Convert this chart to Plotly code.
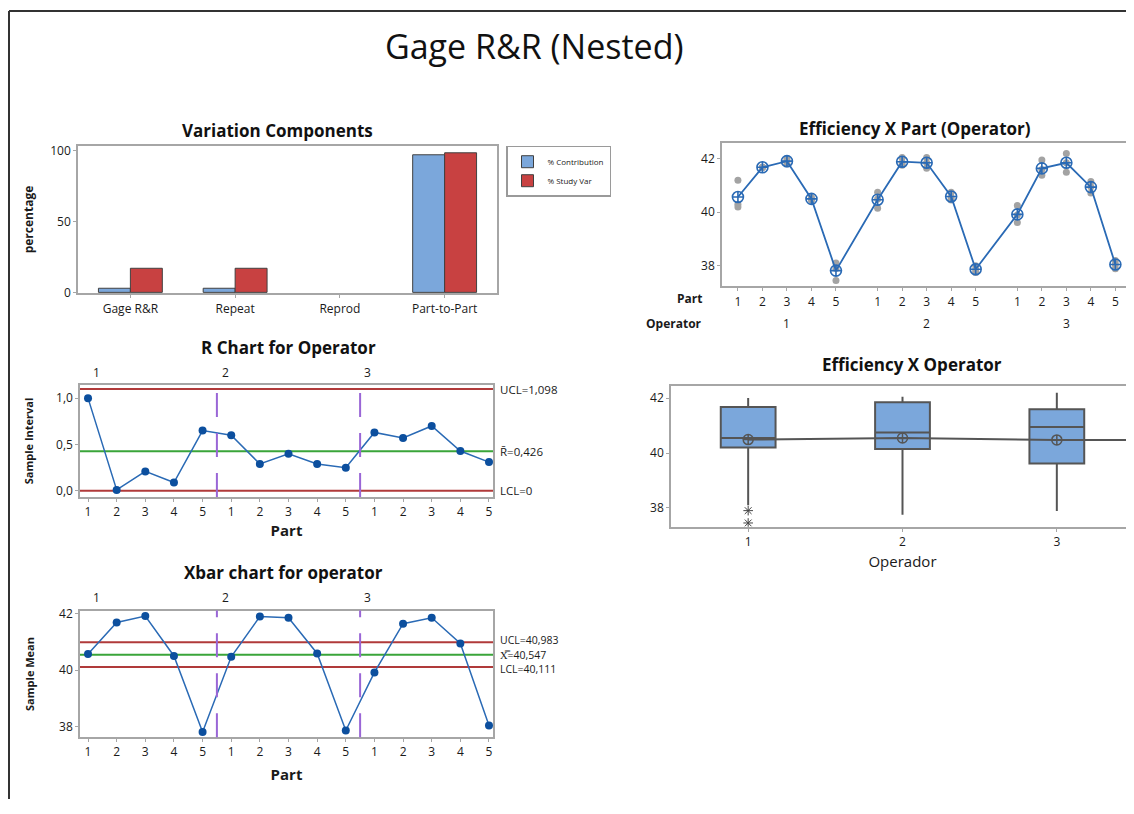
import plotly.graph_objects as go

# target canvas in reference pixels; the page body adds an 8px margin all round
OX, OY = 8, 8
W, H = 1134 - OX, 814 - 2 * OY
FONT = "Open Sans"

# ---------------- data ----------------
components = ["Gage R&R", "Repeat", "Reprod", "Part-to-Part"]
pct_contribution = [2.9, 2.9, 0.0, 97.1]
pct_study_var = [17.0, 17.0, 0.0, 98.5]

operators = [1, 2, 3]
parts = [1, 2, 3, 4, 5]

# individual measurements (3 replicates per part within operator)
meas_op1 = [[41.20, 40.30, 40.20], [41.68, 41.68, 41.67], [41.80, 41.92, 42.01],
            [40.48, 40.55, 40.46], [38.10, 37.90, 37.45]]
meas_op2 = [[40.75, 40.50, 40.15], [42.05, 41.85, 41.76], [42.05, 41.85, 41.65],
            [40.75, 40.55, 40.46], [38.00, 37.85, 37.75]]
meas_op3 = [[40.25, 39.90, 39.62], [41.95, 41.60, 41.38], [42.20, 41.85, 41.50],
            [41.15, 40.95, 40.72], [38.20, 38.05, 37.89]]

# sample ranges (R chart)
r_values = [1.00, 0.01, 0.21, 0.09, 0.65,
            0.60, 0.29, 0.40, 0.29, 0.25,
            0.63, 0.57, 0.70, 0.43, 0.31]
r_ucl, r_center, r_lcl = 1.098, 0.426, 0.0

# sample means (Xbar chart)
xbar_values = [40.57, 41.68, 41.91, 40.50, 37.82,
               40.47, 41.89, 41.85, 40.59, 37.87,
               39.92, 41.64, 41.85, 40.94, 38.05]
x_ucl, x_center, x_lcl = 40.983, 40.547, 40.111

# operator means (box plot)
op_means = [40.49, 40.55, 40.48]

control_labels_r = ["UCL=1,098", "R\u0304=0,426", "LCL=0"]
control_labels_x = ["UCL=40,983", "X\u033f=40,547", "LCL=40,111"]

# ---------------- helpers ----------------
def px(x):
    return (x - OX) / W

def yc(y):
    # vertical calibration of reference pixel rows
    return (y - 5.1) / 0.986

def py(y):
    return 1 - (yc(y) - OY) / H

def dx(a, b):
    return [max(px(a), 0.0), min(px(b), 1.0)]

def dy(top, bottom):
    return [max(py(bottom), 0.0), min(py(top), 1.0)]

BLUE_BAR = "#7ba7db"
RED_BAR = "#c84141"
LINE_BLUE = "#2a6ab5"
MARK_BLUE = "#0c4f9e"
CL_RED = "#b03a3a"
CL_GREEN = "#3aa53a"
PURPLE = "#9a66d6"
FRAME = "#a6a6a6"
TXT = "#1a1a1a"

samples = list(range(1, 16))
sample_ticktext = [str(p) for _ in operators for p in parts]

fig = go.Figure()

# ---- Panel A: variation components ----
bar_line_w = [0 if v == 0 else 1 for v in pct_contribution]
fig.add_trace(go.Bar(x=components, y=pct_contribution, name="% Contribution",
                     marker=dict(color=BLUE_BAR, line=dict(color="#404040", width=bar_line_w)),
                     xaxis="x", yaxis="y"))
fig.add_trace(go.Bar(x=components, y=pct_study_var, name="% Study Var",
                     marker=dict(color=RED_BAR, line=dict(color="#404040", width=bar_line_w)),
                     xaxis="x", yaxis="y"))

# ---- Panel B: R chart ----
for val, col in [(r_ucl, CL_RED), (r_center, CL_GREEN), (r_lcl, CL_RED)]:
    fig.add_trace(go.Scatter(x=[0.72, 15.14], y=[val, val], mode="lines",
                             line=dict(color=col, width=2), showlegend=False,
                             hoverinfo="skip", xaxis="x2", yaxis="y2"))
fig.add_trace(go.Scatter(x=samples, y=r_values, mode="lines+markers",
                         line=dict(color=LINE_BLUE, width=1.5),
                         marker=dict(color=MARK_BLUE, size=8, symbol="circle"),
                         showlegend=False, xaxis="x2", yaxis="y2"))

# ---- Panel C: Xbar chart ----
for val, col in [(x_ucl, CL_RED), (x_center, CL_GREEN), (x_lcl, CL_RED)]:
    fig.add_trace(go.Scatter(x=[0.72, 15.14], y=[val, val], mode="lines",
                             line=dict(color=col, width=2), showlegend=False,
                             hoverinfo="skip", xaxis="x3", yaxis="y3"))
fig.add_trace(go.Scatter(x=samples, y=xbar_values, mode="lines+markers",
                         line=dict(color=LINE_BLUE, width=1.5),
                         marker=dict(color=MARK_BLUE, size=8, symbol="circle"),
                         showlegend=False, xaxis="x3", yaxis="y3"))

# ---- Panel D: Efficiency X Part (Operator) ----
GROUP_STEP = 5.7
meas_all = [meas_op1, meas_op2, meas_op3]
pos_all, dots_x, dots_y = [], [], []
for oi, op in enumerate(operators):
    for pi, p in enumerate(parts):
        pos = oi * GROUP_STEP + pi
        pos_all.append(pos)
        for v in meas_all[oi][pi]:
            dots_x.append(pos)
            dots_y.append(v)
fig.add_trace(go.Scatter(x=dots_x, y=dots_y, mode="markers",
                         marker=dict(color="#a3a3a3", size=7),
                         showlegend=False, xaxis="x4", yaxis="y4"))
fig.add_trace(go.Scatter(x=pos_all, y=xbar_values, mode="lines+markers",
                         line=dict(color=LINE_BLUE, width=1.8),
                         marker=dict(color=LINE_BLUE, size=11, symbol="circle-cross-open",
                                     line=dict(width=1.6, color=LINE_BLUE)),
                         showlegend=False, xaxis="x4", yaxis="y4"))

# ---- Panel E: box plot by operator ----
for oi, op in enumerate(operators):
    vals = [v for rep in meas_all[oi] for v in rep]
    fig.add_trace(go.Box(x=[op] * len(vals), y=vals, width=0.355,
                         fillcolor=BLUE_BAR, line=dict(color="#555555", width=2),
                         whiskerwidth=0, boxpoints="outliers", quartilemethod="exclusive",
                         marker=dict(symbol="asterisk-open", size=8, color="#444444",
                                     line=dict(color="#444444", width=1)),
                         showlegend=False, xaxis="x5", yaxis="y5"))
fig.add_trace(go.Scatter(x=operators + [3.5],
                         y=op_means + [op_means[-1]],
                         mode="lines", line=dict(color="#555555", width=2),
                         showlegend=False, hoverinfo="skip", xaxis="x5", yaxis="y5"))
fig.add_trace(go.Scatter(x=operators, y=op_means, mode="markers",
                         marker=dict(symbol="circle-cross-open", size=10, color="#555555",
                                     line=dict(width=1.5, color="#555555")),
                         showlegend=False, xaxis="x5", yaxis="y5"))

# ---------------- axes ----------------
def ax(**kw):
    base = dict(showline=True, mirror=True, linecolor=FRAME, linewidth=1.5,
                ticks="outside", ticklen=3, tickcolor=FRAME, showgrid=False,
                zeroline=False, tickfont=dict(size=12, color=TXT, family=FONT))
    base.update(kw)
    return base

layout = dict(
    width=W, height=H,
    margin=dict(l=0, r=0, t=0, b=0),
    paper_bgcolor="white", plot_bgcolor="white",
    font=dict(family=FONT, color=TXT),
    barmode="group", bargap=0.39, bargroupgap=0,
    showlegend=True,
    legend=dict(x=px(506), y=py(145), xanchor="left", yanchor="top",
                bordercolor="#9a9a9a", borderwidth=1.5, bgcolor="white",
                font=dict(size=8, family=FONT), itemwidth=30,
                tracegroupgap=0),
    xaxis=ax(domain=dx(78, 497), anchor="y", range=[-0.5, 3.5]),
    yaxis=ax(domain=dy(145, 293), anchor="x", range=[-0.7, 103.5],
             tickvals=[0, 50, 100],
             title=dict(text="<b>percentage</b>", font=dict(size=12), standoff=14)),
    xaxis2=ax(domain=dx(80, 493), anchor="y2", range=[0.72, 15.14],
              tickvals=samples, ticktext=sample_ticktext,
              title=dict(text="<b>Part</b>", font=dict(size=15), standoff=6)),
    yaxis2=ax(domain=dy(385, 497), anchor="x2", range=[-0.065, 1.14],
              tickvals=[0, 0.5, 1.0], ticktext=["0,0", "0,5", "1,0"],
              title=dict(text="<b>Sample Interval</b>", font=dict(size=11), standoff=20)),
    xaxis3=ax(domain=dx(80, 493), anchor="y3", range=[0.72, 15.14],
              tickvals=samples, ticktext=sample_ticktext,
              title=dict(text="<b>Part</b>", font=dict(size=15), standoff=10)),
    yaxis3=ax(domain=dy(611, 738), anchor="x3", range=[37.63, 42.1],
              tickvals=[38, 40, 42],
              title=dict(text="<b>Sample Mean</b>", font=dict(size=11), standoff=22)),
    xaxis4=ax(domain=dx(722, 1134), anchor="y4", range=[-0.65, 16.16],
              tickvals=pos_all, ticktext=sample_ticktext),
    yaxis4=ax(domain=dy(142, 286), anchor="x4", range=[37.23, 42.6], mirror=False,
              tickvals=[38, 40, 42]),
    xaxis5=ax(domain=dx(671, 1134), anchor="y5", range=[0.5, 3.5],
              tickvals=operators, ticktext=[str(o) for o in operators],
              title=dict(text="Operador", font=dict(size=15), standoff=8)),
    yaxis5=ax(domain=dy(386, 527), anchor="x5", range=[37.31, 42.44], mirror=False,
              tickvals=[38, 40, 42]),
)

annotations = []
def title(text, x, y, size=17, bold=True):
    annotations.append(dict(text=f"<b>{text}</b>" if bold else text, x=px(x), y=py(y),
                            xref="paper", yref="paper", showarrow=False,
                            font=dict(size=size, color="#111111", family=FONT),
                            xanchor="center", yanchor="middle"))

title("Gage R&amp;R (Nested)", 534, 45, size=34, bold=False)
title("Variation Components", 277, 130)
title("R Chart for Operator", 288, 347)
title("Xbar chart for operator", 283, 573)
title("Efficiency X Part (Operator)", 915, 128)
title("Efficiency X Operator", 912, 364)

# operator labels above control charts
for axn, yy in [("x2", 372), ("x3", 598)]:
    for oi, op in enumerate(operators):
        annotations.append(dict(text=str(op), x=[1.1, 5.6, 10.55][oi], y=py(yy),
                                xref=axn, yref="paper", showarrow=False,
                                xanchor="left", yanchor="middle",
                                font=dict(size=12, color=TXT, family=FONT)))

# control limit labels
for lab, val in zip(control_labels_r, [r_ucl, r_center, r_lcl]):
    annotations.append(dict(text=lab, x=px(498), y=val, xref="paper", yref="y2",
                            showarrow=False, xanchor="left", yanchor="middle",
                            font=dict(size=11.5, color=TXT, family=FONT)))
for lab, val, ys in zip(control_labels_x, [x_ucl, x_center, x_lcl], [2, 0, -2]):
    annotations.append(dict(text=lab, x=px(498), y=val, xref="paper", yref="y3",
                            showarrow=False, xanchor="left", yanchor="middle", yshift=ys,
                            font=dict(size=10.5, color=TXT, family=FONT)))

# nested axis labels for panel D
annotations.append(dict(text="<b>Part</b>", x=px(704), y=py(298), xref="paper", yref="paper",
                        showarrow=False, xanchor="right", yanchor="middle",
                        font=dict(size=12, color=TXT, family=FONT)))
annotations.append(dict(text="<b>Operator</b>", x=px(704), y=py(323), xref="paper", yref="paper",
                        showarrow=False, xanchor="right", yanchor="middle",
                        font=dict(size=12, color=TXT, family=FONT)))
for oi, op in enumerate(operators):
    annotations.append(dict(text=str(op), x=pos_all[oi * 5 + 2], y=py(323), xref="x4",
                            yref="paper", showarrow=False, xanchor="center", yanchor="middle",
                            font=dict(size=12, color=TXT, family=FONT)))

layout["annotations"] = annotations

# shapes: dashed separators and outer frame
shapes = []
for axn, yax in [("x2", "y2"), ("x3", "y3")]:
    for b in [5.5, 10.5]:
        shapes.append(dict(type="line", xref=axn, yref=f"{yax} domain", x0=b, x1=b,
                           y0=0, y1=1, line=dict(color=PURPLE, width=2, dash="24px,16px")))
shapes.append(dict(type="line", xref="paper", yref="paper", x0=px(9), x1=px(9),
                   y0=0, y1=py(10), line=dict(color="#333333", width=2)))
shapes.append(dict(type="line", xref="paper", yref="paper", x0=px(9), x1=1,
                   y0=py(10), y1=py(10), line=dict(color="#333333", width=2)))
layout["shapes"] = shapes

fig.update_layout(**layout)
fig.write_html("out.html")
